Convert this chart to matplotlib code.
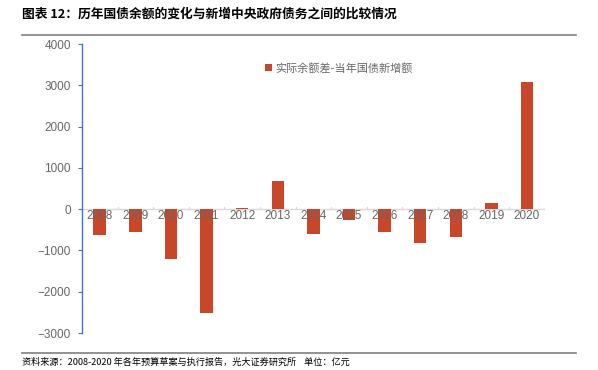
import matplotlib
matplotlib.use("Agg")
import matplotlib.pyplot as plt
from matplotlib.lines import Line2D

plt.rcParams['font.family'] = ['Noto Sans CJK SC', 'DejaVu Sans']

years = ['2008', '2009', '2010', '2011', '2012', '2013', '2014',
         '2015', '2016', '2017', '2018', '2019', '2020']
diff = [-615, -550, -1210, -2520, 30, 690, -605,
        -260, -550, -810, -680, 145, 3075]

title = '图表 12：历年国债余额的变化与新增中央政府债务之间的比较情况'
series_name = '实际余额差-当年国债新增额'
source = '资料来源：2008-2020 年各年预算草案与执行报告，光大证券研究所    单位：亿元'

bar_color = '#C8462A'
grey = '#666666'

fig = plt.figure(figsize=(5.98, 3.70), dpi=100)
ax = fig.add_axes([0.137, 0.10, 0.774, 0.781])

x = list(range(len(years)))
ax.bar(x, diff, width=0.35, color=bar_color, label=series_name, zorder=2)

ax.set_xlim(-0.5, len(years) - 0.5)
ax.set_ylim(-3000, 4000)
ax.set_yticks(range(-3000, 4001, 1000))
ax.tick_params(axis='y', labelsize=8.5, colors='#4472C4', labelcolor=grey,
               length=3, direction='out', pad=5)
for lab in ax.get_yticklabels():
    lab.set_family(['Liberation Sans', 'DejaVu Sans'])

for s in ['top', 'right', 'bottom']:
    ax.spines[s].set_visible(False)
ax.spines['left'].set_color('#4472C4')
ax.spines['left'].set_linewidth(1.0)

# zero line with category boundary ticks
ax.axhline(0, color='#D9D9D9', lw=1.0, zorder=1)
for b in range(len(years) + 1):
    ax.plot([b - 0.5, b - 0.5], [0, 50], color='#D9D9D9', lw=0.8, zorder=1)

ax.set_xticks([])
for xi, yr in zip(x, years):
    ax.text(xi, -160, yr, ha='center', va='center', fontsize=8.5, color=grey,
            family=['Liberation Sans', 'DejaVu Sans'], zorder=3)

leg = ax.legend(loc='upper left', bbox_to_anchor=(0.375, 0.97), frameon=False,
                fontsize=8, handlelength=0.6, handleheight=0.6, handletextpad=0.3)
for t in leg.get_texts():
    t.set_color(grey)

fig.text(0.037, 0.962, title, fontsize=9.2, fontweight='bold', color='black',
         va='center', ha='left')
fig.add_artist(Line2D([0.037, 0.963], [0.906, 0.906], color='#7F7F7F', lw=1.2))
fig.add_artist(Line2D([0.037, 0.963], [0.046, 0.046], color='#7F7F7F', lw=1.2))
fig.text(0.037, 0.022, source, fontsize=6.6, color='black', va='center', ha='left')

fig.savefig('out.png', dpi=100)
